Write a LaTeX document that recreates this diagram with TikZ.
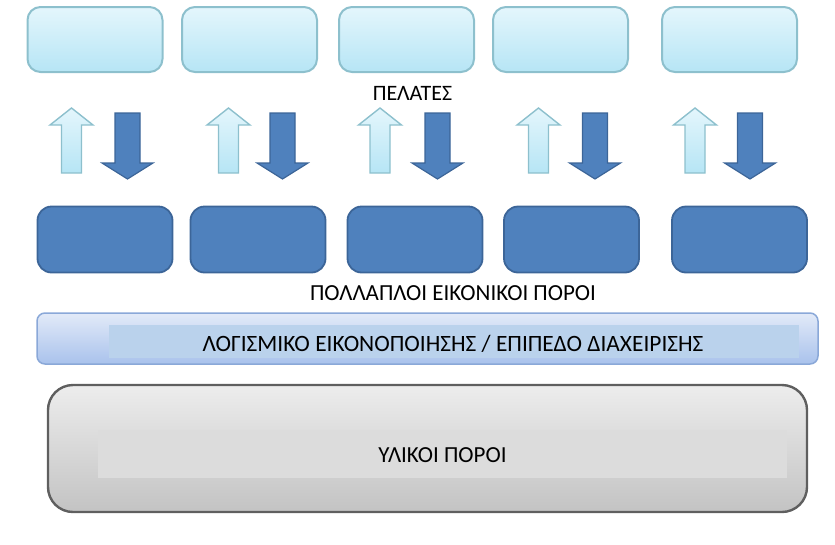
\documentclass[tikz,border=0pt]{standalone}
\usepackage{fontspec}
\setmainfont{Carlito}
\usetikzlibrary{positioning}

\definecolor{cliTop}{HTML}{E4F6FC}
\definecolor{cliBot}{HTML}{B6E5F5}
\definecolor{cliLine}{HTML}{8DC0CD}
\definecolor{vrFill}{HTML}{4F81BD}
\definecolor{vrLine}{HTML}{3C6598}
\definecolor{mgTop}{HTML}{E2EAF8}
\definecolor{mgBot}{HTML}{A9C2EC}
\definecolor{mgLine}{HTML}{8AA8D8}
\definecolor{mgIn}{HTML}{BAD2EC}
\definecolor{hwTop}{HTML}{EDEDED}
\definecolor{hwBot}{HTML}{C3C3C3}
\definecolor{hwLine}{HTML}{5F5F5F}
\definecolor{hwIn}{HTML}{DCDCDC}

\tikzset{
  clientbox/.style={draw=cliLine, line width=2pt, rounded corners=13pt,
    top color=cliTop, bottom color=cliBot, minimum width=135pt, minimum height=65pt},
  vrbox/.style={draw=vrLine, line width=1.8pt, rounded corners=14pt,
    fill=vrFill, minimum width=135pt, minimum height=66pt},
  uparr/.style={draw=cliLine, line width=1.4pt, top color=cliTop, bottom color=cliBot},
  downarr/.style={draw=vrLine, line width=1.2pt, fill=vrFill},
  lbl/.style={font=\fontsize{22}{26}\selectfont}
}

\begin{document}
\begin{tikzpicture}[x=1pt, y=-1pt]
    \useasboundingbox (0,0) rectangle (835,544);

    % Clients
    \foreach \i/\cx in {1/95, 2/249.5, 3/406.5, 4/560.5, 5/729.5}
        \node[clientbox] (cli\i) at (\cx, 39.5) {};
    \node[lbl] (clients) at (412.5, 93.5) {ΠΕΛΑΤΕΣ};

    % Requests and responses
    \foreach \ux/\dx in {71.5/127.5, 228.5/282.5, 380/437.5, 538.5/595, 695/750} {
        \draw[uparr] (\ux-10,173) -- (\ux-10,125) -- (\ux-21.5,125) -- (\ux,108)
            -- (\ux+21.5,125) -- (\ux+10,125) -- (\ux+10,173) -- cycle;
        \draw[downarr] (\dx-12.5,113) -- (\dx-12.5,163) -- (\dx-25.5,163) -- (\dx,179)
            -- (\dx+25.5,163) -- (\dx+12.5,163) -- (\dx+12.5,113) -- cycle;
    }

    % Virtual resources
    \foreach \i/\cx in {1/105, 2/258, 3/415, 4/571.5, 5/739.5}
        \node[vrbox] (vr\i) at (\cx, 239.5) {};
    \node[lbl, font=\fontsize{23}{27}\selectfont] (vrlabel) at (453, 293) {ΠΟΛΛΑΠΛΟΙ ΕΙΚΟΝΙΚΟΙ ΠΟΡΟΙ};

    % Management layer
    \node[draw=mgLine, line width=1.5pt, rounded corners=8pt, top color=mgTop, bottom color=mgBot,
          minimum width=781pt, minimum height=51pt] (mgmt) at (427.5, 338.5) {};
    \node[fill=mgIn, minimum width=690pt, minimum height=33pt] (mgmtin) at (454, 341.5) {};
    \node[lbl, font=\fontsize{23.4}{27}\selectfont] (mgmtlabel) at (453, 344) {ΛΟΓΙΣΜΙΚΟ ΕΙΚΟΝΟΠΟΙΗΣΗΣ / ΕΠΙΠΕΔΟ ΔΙΑΧΕΙΡΙΣΗΣ};

    % Hardware
    \node[draw=hwLine, line width=2.4pt, rounded corners=25pt, top color=hwTop, bottom color=hwBot,
          minimum width=759pt, minimum height=127pt] (hw) at (427.5, 448.5) {};
    \node[fill=hwIn, minimum width=689pt, minimum height=48pt] (hwin) at (442.5, 454) {};
    \node[lbl, font=\fontsize{23}{27}\selectfont] (hwlabel) at (442.5, 455) {ΥΛΙΚΟΙ ΠΟΡΟΙ};
\end{tikzpicture}
\end{document}
